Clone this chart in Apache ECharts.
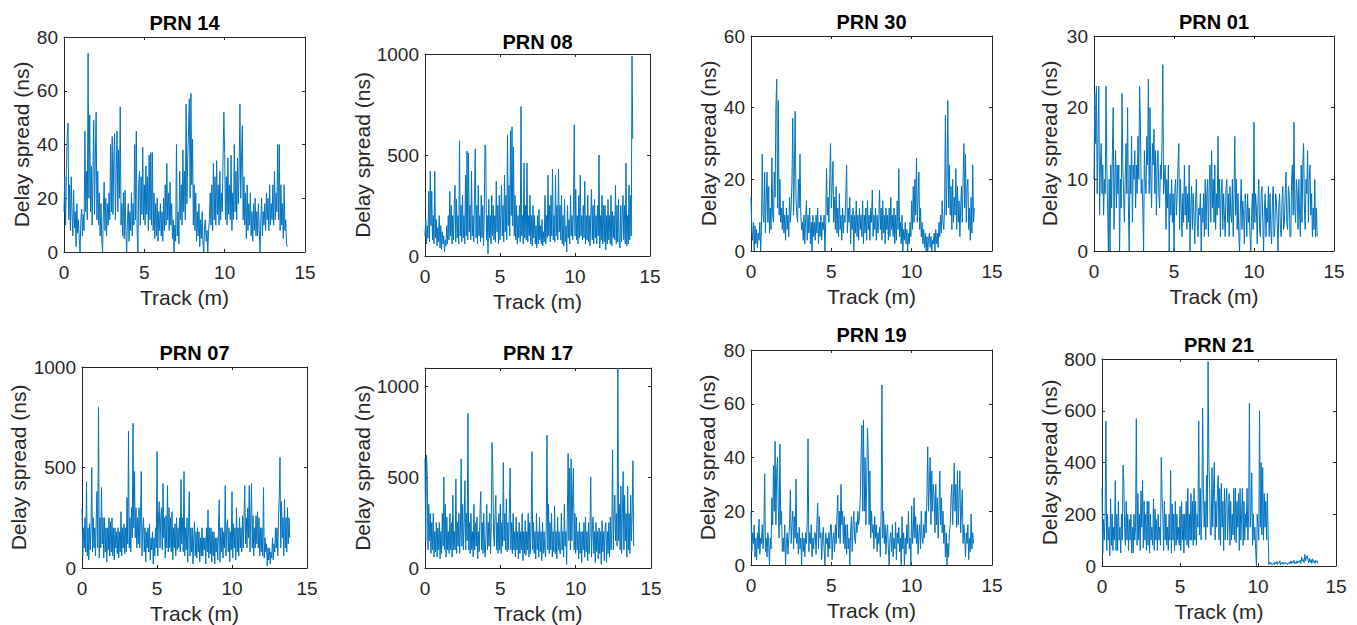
<!DOCTYPE html>
<html><head><meta charset="utf-8">
<script src="https://cdn.jsdelivr.net/npm/echarts@6/dist/echarts.min.js"></script>
<style>html,body{margin:0;padding:0;background:#fff}#c{width:1357px;height:625px}</style>
</head><body><div id="c"></div>
<script>
// ---- data, one row per metre of track ----
const trackStep = 0.05; // metres between samples
const xTicks = [0, 5, 10, 15];
const titles = ['PRN 14', 'PRN 08', 'PRN 30', 'PRN 01', 'PRN 07', 'PRN 17', 'PRN 19', 'PRN 21'];
const yMax = [80, 1000, 60, 30, 1000, 1100, 80, 800];
const yStep = [20, 500, 20, 10, 500, 500, 20, 200];

const prn14 = [
 15,28,10,30,43,48,12,25,8,28,14,6,23,9,15,2,18,7,12,5,
 0,12,16,6,14,8,45,15,30,12,74,20,51,15,32,10,28,49,14,35,
 52,12,30,10,22,6,18,5,0,15,26,8,20,6,18,10,22,12,40,15,
 43,14,35,44,12,30,45,15,38,20,54,10,18,6,22,5,23,8,0,12,
 18,4,15,8,22,6,18,10,40,12,45,8,0,25,30,10,28,14,39,12,
 25,10,32,14,28,8,36,12,37,10,37,8,22,5,18,6,20,4,15,8,
 18,6,15,4,20,8,25,10,33,12,22,8,26,10,18,5,12,0,10,4,
 40,6,15,3,30,12,25,10,38,15,30,12,55,18,35,45,57,20,59,25,
 42,10,25,8,22,4,15,6,18,2,12,5,15,3,0,10,12,4,8,0,
 8,12,22,10,25,8,33,12,28,10,34,14,25,10,30,12,22,15,35,52,
 37,12,28,10,35,14,25,12,36,8,22,12,40,15,30,12,35,18,30,55,
 20,35,47,12,28,10,22,5,25,8,18,10,22,6,15,4,18,8,20,6,
 15,6,18,8,0,12,20,6,15,10,18,8,22,12,20,8,25,10,18,12,
 25,10,30,12,22,15,40,12,40,8,25,10,18,5,25,8,12,3,2];
const prn08 = [
 100,180,60,150,90,320,70,420,150,320,80,200,60,420,90,180,50,140,70,200,
 40,150,30,120,60,100,20,80,50,150,60,200,80,320,100,250,60,200,80,250,
 350,70,280,90,200,60,570,100,250,70,300,90,200,60,400,100,520,80,510,120,
 250,80,420,100,200,70,300,530,90,250,60,350,100,200,70,300,90,250,50,200,
 550,530,80,200,10,280,90,200,60,300,100,250,80,200,70,370,120,250,60,300,
 80,200,350,100,250,70,400,120,300,80,600,150,350,100,620,200,640,150,540,100,
 300,80,250,60,200,90,250,70,740,100,200,60,460,90,250,80,460,70,200,100,
 300,60,200,50,250,90,200,60,150,40,200,60,230,80,150,60,180,50,120,70,
 300,60,200,90,400,100,250,70,300,100,430,80,200,70,400,100,250,80,430,120,
 250,80,300,60,200,50,280,70,150,20,250,90,180,60,300,100,200,80,250,650,
 100,330,80,200,60,300,90,400,100,200,80,250,90,370,60,200,80,300,70,200,
 50,200,330,80,250,60,280,90,200,60,250,100,500,40,200,80,300,60,250,70,
 250,30,200,60,280,80,200,60,300,50,220,90,200,80,350,60,250,70,280,60,
 40,250,70,200,300,80,250,60,460,50,200,60,350,80,300,100,990,580];
const prn30 = [
 15,6,3,8,0,7,2,6,1,5,3,8,0,6,27,10,8,22,5,15,
 22,8,18,5,12,6,26,10,8,22,15,40,48,12,42,10,20,8,12,6,
 14,5,10,3,12,6,10,4,15,8,12,20,37,10,22,39,15,10,8,20,
 12,27,10,6,8,3,10,2,9,14,3,10,5,12,2,8,0,10,4,8,
 3,10,5,12,2,8,4,10,3,8,6,10,0,8,23,10,15,8,20,30,
 12,18,25,8,15,6,18,5,12,4,16,6,10,3,12,5,10,8,15,24,
 5,12,8,15,2,10,6,12,0,10,5,14,4,10,3,12,6,10,4,14,
 2,10,5,12,3,14,6,10,3,12,8,17,4,10,6,12,3,10,5,8,
 17,6,12,3,14,5,10,2,12,6,10,3,12,4,15,6,10,4,12,2,
 10,3,14,6,23,4,8,2,10,0,6,3,8,2,6,0,5,2,8,4,
 14,6,18,8,20,10,26,8,15,22,6,12,4,8,2,6,1,5,0,4,
 0,3,5,1,4,0,3,2,5,0,6,2,5,1,8,4,10,5,14,8,
 6,12,38,10,20,42,12,24,10,18,6,20,8,15,10,23,6,18,8,14,
 4,12,18,8,20,30,12,27,8,18,20,6,12,3,15,5,24,8,12];
const prn01 = [
 10,22,15,23,8,16,23,5,12,15,8,12,5,10,8,23,12,6,0,10,
 0,12,6,14,20,3,10,14,6,12,8,12,0,10,6,22,12,8,4,10,
 15,8,20,6,0,12,8,16,4,12,10,14,6,12,8,16,10,23,18,8,
 10,6,0,14,10,8,16,12,24,8,20,10,6,15,12,17,8,14,5,12,
 14,8,6,12,10,15,26,8,10,12,3,10,6,12,0,8,5,10,4,8,
 0,8,10,5,8,12,15,3,10,6,2,8,4,12,5,9,3,8,4,12,
 0,6,9,3,8,5,1,7,10,4,2,6,5,8,0,6,4,8,2,10,
 3,8,10,2,9,12,4,14,6,10,4,12,3,8,5,16,6,10,2,8,
 10,3,8,5,2,9,10,4,8,2,9,5,4,10,2,8,16,5,10,3,
 8,2,0,6,10,3,7,5,1,8,6,2,8,4,6,2,0,5,8,3,
 18,4,8,6,1,7,10,3,2,8,9,4,0,6,8,2,6,4,9,2,
 8,3,1,7,9,2,3,8,7,4,0,6,8,3,2,7,9,3,4,8,
 11,4,3,9,8,2,2,10,12,5,18,6,4,10,8,3,10,5,2,12,
 4,12,15,6,3,10,8,14,4,10,12,5,8,2,6,3,10,2,6,2];
const prn07 = [
 300,60,200,100,250,80,430,60,200,40,220,90,200,500,80,250,100,200,60,250,
 380,100,800,50,250,100,400,120,250,50,250,80,200,30,200,90,250,60,230,80,
 250,60,200,40,200,100,180,70,200,50,180,80,280,60,200,100,220,70,200,80,
 350,120,680,100,250,80,300,150,720,200,480,150,300,100,250,120,300,100,250,480,
 60,200,250,80,200,30,180,100,200,80,220,40,150,90,180,20,150,60,200,100,
 580,60,250,330,100,250,300,90,420,150,250,50,260,100,410,80,300,100,250,80,
 280,40,200,100,220,60,250,90,200,100,250,80,440,120,250,80,480,60,200,90,
 250,30,200,380,60,200,80,200,20,150,230,60,180,50,200,80,180,30,150,60,
 200,60,150,90,150,20,200,80,290,50,200,70,200,30,180,60,180,20,150,80,
 150,40,200,340,30,200,80,200,50,180,100,410,60,200,240,80,200,30,180,90,
 380,50,220,100,200,40,300,80,200,60,250,100,200,80,260,100,250,410,120,250,
 100,300,150,410,80,250,420,100,260,60,200,100,260,120,280,100,250,60,200,80,
 200,60,400,50,150,80,120,10,100,40,100,20,80,50,150,40,120,80,200,100,
 200,60,250,350,550,100,330,150,250,60,340,100,250,80,300,120,250,150];
const prn17 = [
 600,150,620,500,100,350,150,300,80,250,100,300,60,200,90,250,60,220,100,250,
 50,200,80,300,120,500,100,350,60,280,100,200,80,300,100,250,60,400,100,200,
 100,490,80,250,120,300,80,200,600,120,350,100,250,480,100,300,150,850,100,250,
 80,300,100,200,60,350,100,250,120,280,50,200,90,300,420,100,250,80,300,100,
 60,200,350,100,250,120,300,80,250,690,540,200,120,300,400,100,250,80,300,100,
 350,80,250,120,580,150,300,100,380,90,250,100,300,550,100,250,80,300,100,200,
 60,280,100,200,50,250,80,200,100,300,40,200,80,260,70,200,100,300,60,250,
 80,250,640,100,250,80,200,50,300,100,200,60,280,90,200,40,250,80,200,100,
 60,250,730,100,350,80,250,100,300,60,200,90,340,80,200,50,280,100,200,80,
 80,300,100,200,60,350,120,200,20,300,630,150,550,100,600,150,400,550,100,300,
 80,280,100,200,50,250,80,200,30,200,100,250,60,280,90,200,40,250,80,200,
 500,60,200,280,80,200,30,250,90,200,50,220,80,200,20,260,90,200,40,220,
 250,30,200,80,250,60,280,100,200,650,100,300,400,150,300,120,1100,150,350,100,
 450,80,300,530,100,400,150,300,60,450,100,300,80,400,150,300,590,120];
const prn19 = [
 20,5,12,8,15,3,10,2,12,6,17,4,10,8,15,6,12,34,5,10,
 3,12,8,0,10,6,25,15,37,20,46,15,35,40,20,10,45,15,20,5,
 10,5,15,0,8,12,4,10,15,28,8,15,20,6,18,10,32,8,12,4,
 14,6,10,0,12,5,10,3,12,8,15,47,5,12,8,15,3,10,6,12,
 12,4,15,23,6,18,10,12,2,10,14,6,0,12,8,10,3,12,6,15,
 15,2,10,12,5,15,8,18,26,10,20,8,30,15,20,8,18,6,15,4,
 15,6,10,0,12,18,5,15,20,10,8,16,12,20,15,18,25,40,52,20,
 54,20,40,15,30,51,41,15,35,10,20,12,15,6,18,10,15,5,12,8,
 14,3,20,67,10,20,8,15,4,12,15,6,0,10,12,5,15,3,10,6,
 16,2,12,8,14,5,10,0,18,6,12,0,10,4,15,8,20,6,10,0,
 22,8,12,25,10,18,8,15,4,12,15,6,20,10,8,15,10,20,12,25,
 44,20,30,40,15,35,20,30,25,12,30,15,25,10,20,35,15,25,12,20,
 8,15,3,12,0,8,3,12,15,25,30,15,25,38,20,30,14,35,15,25,
 35,12,20,28,8,15,10,3,12,8,15,2,10,5,19,6,12,8];
const prn21 = [
 300,50,180,100,200,560,60,200,100,150,40,260,80,200,60,150,100,330,60,200,
 60,250,100,150,50,200,100,390,320,150,80,250,100,200,60,180,100,200,50,150,
 50,200,100,150,570,80,280,100,200,60,290,150,330,70,250,100,200,60,250,80,
 250,50,200,100,150,80,260,60,220,100,180,60,200,100,150,80,420,270,200,60,
 250,100,200,80,150,60,200,100,370,50,240,100,200,60,250,80,200,100,150,80,
 230,60,250,100,200,50,200,100,250,80,300,70,200,100,280,100,250,80,300,100,
 250,80,200,150,560,120,300,100,200,610,300,150,250,100,350,150,790,400,300,120,
 120,380,150,300,400,100,250,150,300,350,100,300,80,320,150,250,60,300,100,250,
 300,100,200,280,80,250,100,200,120,300,100,300,90,250,150,280,60,300,100,200,
 300,80,250,100,200,150,300,100,200,630,150,200,360,80,200,100,150,60,0,200,
 150,100,600,150,400,120,380,100,280,150,250,100,280,120,5,15,8,12,5,10,
 12,5,15,8,18,6,12,10,20,5,12,8,15,6,10,14,8,12,5,10,
 15,8,20,10,18,12,22,8,15,10,20,12,18,15,22,10,35,20,25,12,
 45,20,30,40,25,12,30,15,25,10,28,15,20,10,22,15,20,10];
const seriesValues = [prn14, prn08, prn30, prn01, prn07, prn17, prn19, prn21];

// ---- layout / style ----
const layout = [
  {left: 64,   top: 37,  width: 241, height: 215, titleY: 23,  nameGap: 32},
  {left: 425,  top: 54,  width: 225, height: 202, titleY: 42,  nameGap: 51},
  {left: 751,  top: 36,  width: 241, height: 215, titleY: 22,  nameGap: 32},
  {left: 1094, top: 36,  width: 240, height: 215, titleY: 22,  nameGap: 34},
  {left: 82,   top: 367, width: 225, height: 201, titleY: 353, nameGap: 53},
  {left: 425,  top: 368, width: 226, height: 200, titleY: 353, nameGap: 52},
  {left: 751,  top: 350, width: 241, height: 215, titleY: 335, nameGap: 33},
  {left: 1102, top: 359, width: 234, height: 207, titleY: 345, nameGap: 42}
];
const FONT = '"Liberation Sans", Arial, Helvetica, sans-serif';
const AX = '#262626';
const LINE = '#0072BD';

const grid = [], xAxis = [], yAxis = [], series = [], graphic = [];
layout.forEach((l, i) => {
  grid.push({left: l.left, top: l.top, width: l.width, height: l.height, containLabel: false});
  const line = {show: true, onZero: false, lineStyle: {color: AX, width: 1}};
  const tick = {show: true, inside: true, length: 3, lineStyle: {color: AX, width: 1}};
  xAxis.push({
    gridIndex: i, type: 'value', position: 'bottom', min: xTicks[0], max: xTicks[xTicks.length - 1],
    interval: xTicks[1] - xTicks[0],
    axisLine: line, axisTick: tick, splitLine: {show: false},
    axisLabel: {fontSize: 19, color: AX, margin: 11, fontFamily: FONT},
    name: 'Track (m)', nameLocation: 'middle', nameGap: 35,
    nameTextStyle: {fontSize: 21, color: AX, fontFamily: FONT}
  });
  xAxis.push({
    gridIndex: i, type: 'value', position: 'top', min: xTicks[0], max: xTicks[xTicks.length - 1],
    interval: xTicks[1] - xTicks[0],
    axisLine: line, axisTick: tick, splitLine: {show: false}, axisLabel: {show: false}
  });
  const step = yStep[i];
  yAxis.push({
    gridIndex: i, type: 'value', position: 'left', min: 0, max: yMax[i], interval: step,
    axisLine: line, axisTick: tick, splitLine: {show: false},
    axisLabel: {fontSize: 19, color: AX, margin: 6, fontFamily: FONT,
      formatter: v => (v % step === 0 ? String(v) : '')},
    name: 'Delay spread (ns)', nameLocation: 'middle', nameGap: l.nameGap, nameRotate: 90,
    nameTextStyle: {fontSize: 21, color: AX, fontFamily: FONT}
  });
  yAxis.push({
    gridIndex: i, type: 'value', position: 'right', min: 0, max: yMax[i], interval: step,
    axisLine: line, axisTick: tick, splitLine: {show: false}, axisLabel: {show: false}
  });
  series.push({
    type: 'line', xAxisIndex: 2 * i, yAxisIndex: 2 * i,
    data: seriesValues[i].map((v, k) => [k * trackStep, v]),
    showSymbol: false, symbol: 'none', silent: true, animation: false, sampling: null,
    lineStyle: {color: LINE, width: 1}
  });
  graphic.push({
    type: 'text', x: l.left + l.width / 2, y: l.titleY,
    style: {text: titles[i], fill: '#000', font: 'bold 20px ' + FONT,
      align: 'center', verticalAlign: 'middle', textAlign: 'center', textVerticalAlign: 'middle'}
  });
});

const chart = echarts.init(document.getElementById('c'), null, {renderer: 'svg'});
chart.setOption({animation: false, grid, xAxis, yAxis, series, graphic});
</script>
</body></html>
